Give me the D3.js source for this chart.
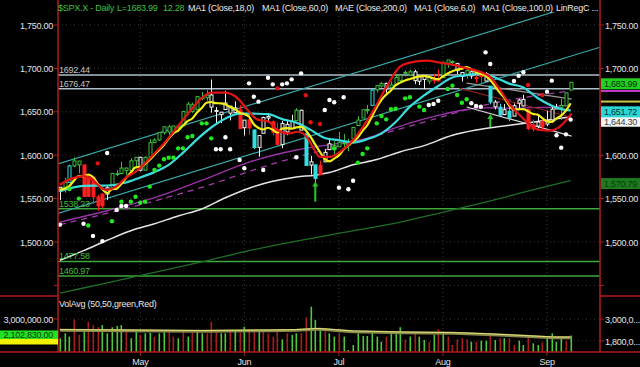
<!DOCTYPE html>
<html>
<head>
<meta charset="utf-8">
<script src="https://cdn.jsdelivr.net/npm/d3@7"></script>
<style>
html, body { margin: 0; padding: 0; background: #000; }
svg { display: block; font-family: "Liberation Sans", Arial, sans-serif; font-size: 9px; letter-spacing: -0.25px; }
</style>
</head>
<body>
<svg id="chart" width="640" height="367"></svg>
<script>
// trading days shown (2013)
const dates = ["4/8","4/9","4/10","4/11","4/12","4/15","4/16","4/17","4/18","4/19","4/22","4/23","4/24","4/25","4/26","4/29","4/30",
  "5/1","5/2","5/3","5/6","5/7","5/8","5/9","5/10","5/13","5/14","5/15","5/16","5/17","5/20","5/21","5/22","5/23","5/24","5/28","5/29","5/30","5/31",
  "6/3","6/4","6/5","6/6","6/7","6/10","6/11","6/12","6/13","6/14","6/17","6/18","6/19","6/20","6/21","6/24","6/25","6/26","6/27","6/28",
  "7/1","7/2","7/3","7/5","7/8","7/9","7/10","7/11","7/12","7/15","7/16","7/17","7/18","7/19","7/22","7/23","7/24","7/25","7/26","7/29","7/30","7/31",
  "8/1","8/2","8/5","8/6","8/7","8/8","8/9","8/12","8/13","8/14","8/15","8/16","8/19","8/20","8/21","8/22","8/23","8/26","8/27","8/28","8/29","8/30",
  "9/3","9/4","9/5","9/6","9/9","9/10"]
const monthNames = {5: "May", 6: "Jun", 7: "Jul", 8: "Aug", 9: "Sep"}

const opens = [1558.6,1563.1,1568.6,1587.7,1593.3,1588.8,1552.4,1574.6,1552.0,1541.6,1555.3,1562.5,1578.8,1578.9,1585.2,1582.3,1593.6,
  1597.6,1582.8,1597.6,1614.4,1617.6,1625.9,1632.7,1626.7,1632.1,1633.8,1649.1,1658.1,1652.4,1665.7,1666.2,1669.4,1651.6,1646.7,1652.6,1656.6,1649.1,1652.1,
  1631.7,1640.7,1629.1,1609.0,1625.3,1644.7,1638.6,1629.9,1612.2,1635.5,1630.6,1639.8,1651.8,1624.6,1588.6,1588.8,1577.5,1592.3,1606.4,1611.1,
  1609.8,1614.3,1611.5,1618.7,1634.2,1642.9,1651.6,1657.4,1675.3,1679.6,1682.7,1677.9,1681.1,1686.2,1694.4,1696.1,1696.1,1685.2,1687.3,1690.3,1687.9,1687.8,
  1689.4,1706.1,1708.0,1705.8,1695.3,1693.4,1696.1,1688.4,1690.7,1693.9,1679.6,1661.2,1655.3,1646.8,1650.7,1645.0,1659.9,1664.3,1652.5,1630.2,1633.5,1638.9,
  1635.9,1640.7,1653.3,1657.4,1656.9,1675.1]
const highs = [1563.1,1573.9,1589.1,1597.4,1593.3,1588.8,1575.4,1574.6,1554.4,1555.9,1565.6,1579.6,1583.0,1592.6,1585.8,1596.7,1597.6,
  1597.6,1598.6,1618.5,1619.8,1626.0,1633.0,1635.0,1633.7,1636.0,1651.1,1661.5,1660.5,1667.5,1672.8,1674.9,1687.2,1655.5,1649.8,1674.2,1656.6,1661.9,1658.0,
  1640.4,1646.5,1629.3,1622.6,1644.4,1648.7,1640.1,1637.7,1639.3,1640.8,1646.5,1654.2,1652.5,1624.6,1599.2,1588.8,1593.8,1606.8,1620.1,1615.9,
  1626.6,1624.3,1618.9,1632.1,1644.7,1652.4,1657.9,1676.6,1680.2,1684.5,1683.7,1684.8,1693.1,1692.1,1697.6,1698.4,1698.4,1690.9,1691.9,1690.9,1693.2,1698.4,
  1707.9,1709.7,1709.2,1705.8,1695.3,1700.2,1699.4,1691.5,1696.8,1695.5,1679.6,1663.6,1659.2,1658.9,1656.9,1659.6,1664.9,1669.5,1652.5,1641.2,1646.4,1640.1,
  1651.3,1655.7,1659.2,1664.8,1672.4,1684.1]
const lows = [1548.2,1556.9,1568.6,1586.2,1579.0,1552.3,1552.4,1543.7,1536.0,1539.4,1548.2,1562.5,1575.8,1578.9,1577.6,1582.3,1586.5,
  1581.3,1582.8,1597.6,1614.2,1616.6,1623.7,1623.1,1623.7,1626.7,1633.8,1647.0,1648.6,1652.4,1663.5,1662.7,1648.9,1635.5,1636.9,1652.6,1640.1,1648.6,1630.7,
  1622.7,1623.6,1607.1,1598.2,1625.3,1639.3,1622.9,1610.9,1608.1,1623.0,1630.3,1639.8,1628.9,1588.2,1577.7,1560.3,1577.1,1592.3,1606.4,1601.1,
  1609.8,1606.8,1604.6,1615.0,1634.2,1642.9,1647.7,1657.4,1672.3,1677.9,1671.8,1677.9,1681.1,1684.1,1690.7,1691.0,1681.9,1680.7,1676.0,1681.9,1682.4,1684.9,
  1689.4,1700.7,1703.6,1693.3,1684.9,1688.4,1688.1,1683.4,1682.6,1684.8,1658.6,1652.6,1646.1,1646.1,1639.4,1645.0,1653.2,1656.0,1629.1,1627.5,1630.9,1628.0,
  1633.4,1637.4,1653.1,1640.6,1656.9,1675.1]
const closes = [1563.1,1568.6,1587.7,1593.4,1588.9,1552.4,1574.6,1552.0,1541.6,1555.3,1562.5,1578.8,1578.8,1585.2,1582.2,1593.6,1597.6,
  1582.7,1597.6,1614.4,1617.5,1626.0,1632.7,1626.7,1633.7,1633.8,1650.3,1658.8,1650.5,1667.5,1666.3,1669.2,1655.4,1650.5,1649.6,1660.1,1648.4,1654.4,1630.7,
  1640.4,1631.4,1608.9,1622.6,1643.4,1642.8,1626.1,1612.5,1636.4,1626.7,1639.0,1651.8,1628.9,1588.2,1592.4,1573.1,1588.0,1603.3,1613.2,1606.3,
  1615.0,1614.1,1615.4,1631.9,1640.5,1652.3,1652.6,1675.0,1680.2,1682.5,1676.3,1680.9,1689.4,1692.1,1695.5,1692.4,1685.9,1690.3,1691.7,1685.3,1686.0,1685.7,
  1706.9,1709.7,1707.1,1697.4,1690.9,1697.5,1691.4,1689.5,1694.2,1685.4,1661.3,1655.8,1646.1,1652.4,1642.8,1657.0,1663.5,1656.8,1630.5,1635.0,1638.2,1633.0,
  1639.8,1653.1,1655.1,1655.2,1671.7,1683.99]
// candle colour code per day: g green hollow, w white hollow, r red, c cyan, C cyan hollow
const candleCodes = "wgCggrrrrr" + "wggggggwgg" + "gggggggggg" + "ggwwwwwwrw" + "rcwwwrrwww" +
  "gwcwcrwwgg" + "ggggggCggw" + "gggggwwwgr" + "rgggwwgwrr" + "wcwcwcwwwr" + "rwrwwwggg"

// volume in millions
const volumes = [1.95,2.22,2.04,2.98,2.13,2.40,2.85,2.67,2.55,2.67,
  2.22,2.55,2.62,2.67,2.31,1.95,2.40,2.13,2.22,2.25,
  2.04,2.22,2.31,2.31,2.04,1.95,2.31,2.04,2.31,2.40,
  2.22,2.22,2.85,2.40,2.22,2.22,2.31,2.40,2.25,2.58,
  2.44,2.44,2.31,2.40,2.22,2.04,2.31,1.89,2.22,2.13,
  2.22,2.22,3.09,3.67,2.95,2.44,2.31,2.22,2.04,2.22,
  2.04,1.31,1.58,2.22,2.07,2.07,2.25,2.04,1.76,2.04,
  2.31,2.31,2.55,1.89,2.04,2.22,2.04,1.85,1.76,2.13,
  2.44,2.31,2.04,1.58,1.89,1.95,1.89,1.76,1.76,1.82,
  1.82,2.13,1.85,1.95,1.95,1.95,1.58,1.82,1.58,2.13,
  1.67,1.58,1.71,2.04,2.22,1.76,1.95,1.82,2.10]
const volumeCodes = "gggrrgrrrg" + "ggggrggrgg" + "rggrrgrgrg" + "grrrggrgrg" + "rrgrrrrgrg" +
  "grrgggrggr" + "gggggggggr" + "gggrgrggrg" + "rgrrrrrgrg" + "grgrgrrggr" + "ggrggggrg"
const volAvg = [[0,2.38],[15,2.36],[30,2.33],[44,2.36],[50,2.38],[54,2.44],[55,2.44],[62,2.31],[72.6,2.25],
  [83.2,2.22],[90.2,2.16],[97.3,2.07],[104.3,1.98],[108,1.98]]
const lastVolume = 2102830

// indicator lines, [day index, price]
const ma6 = [1560.4,1561.5,1564.4,1571.0,1575.8,1575.7,1577.6,1574.8,1567.2,1560.8,1556.4,1560.8,1561.5,1567.0,1573.8,1580.2,1586.0,
  1586.7,1589.8,1594.7,1600.6,1606.0,1611.8,1619.2,1625.2,1628.4,1633.9,1639.3,1642.3,1649.1,1654.5,1660.4,1661.3,1659.9,1659.8,1658.5,1655.5,1653.1,1649.0,
  1647.3,1644.2,1635.7,1631.4,1629.6,1631.6,1629.2,1626.1,1630.6,1631.3,1630.6,1632.1,1632.6,1628.5,1621.2,1612.2,1603.7,1595.7,1593.0,1596.1,
  1599.8,1606.7,1611.2,1616.0,1620.5,1628.2,1634.5,1644.6,1655.4,1663.9,1669.8,1674.6,1680.7,1683.6,1686.1,1687.8,1689.4,1690.9,1691.3,1690.2,1688.6,1687.5,
  1691.0,1694.2,1696.8,1698.8,1699.6,1701.6,1699.0,1695.6,1693.5,1691.5,1686.6,1679.6,1672.1,1665.9,1657.3,1652.6,1652.9,1653.1,1650.5,1647.6,1646.8,1642.8,
  1638.9,1638.3,1642.4,1645.7,1651.3,1659.8]
const redLine = [[0,1566],[2.4,1573],[4.9,1576],[6.6,1573.5],[8,1566],[9.8,1560],[11.9,1563.8],[13.7,1573],[16.5,1583],[19.3,1598],
  [22.1,1614],[24.9,1633],[27.7,1652],[29.9,1665.5],[32,1672],[34.8,1672],[37.6,1665.5],[39.7,1652],[41.8,1641],[44,1639],[46,1629],
  [48.2,1625],[50.3,1627],[52.4,1619.5],[53.8,1606],[55,1598],[57.1,1598],[59.5,1605],[62,1617.5],[65.5,1644.4],[69.1,1679],[71.9,1702],
  [74,1706.6],[77.5,1708.9],[80.4,1706.6],[83.2,1704],[86,1700],[88.8,1696.2],[90.9,1690.5],[93.1,1675],[95.2,1657.8],[97.2,1646.3],
  [99.4,1634.8],[101.5,1629],[103.6,1628.3],[105.7,1632.9],[107.1,1640.6],[108.2,1648.2]]
const ma18 = [[0,1558.4],[5,1564.6],[10,1565.1],[14,1568.5],[17,1574.4],[20,1580.5],[23,1588.9],[26,1602.7],[29,1618.3],[32,1631.9],
  [35,1642.3],[38,1648.0],[41,1647.8],[44,1647.3],[47,1641.6],[50,1637.5],[53,1629.2],[56,1619.8],[59,1617.2],[62,1614.6],[65,1618.5],
  [68,1625.2],[71,1638.3],[74,1655.9],[77,1668.8],[80,1679.7],[83,1689.6],[86,1692.3],[89,1693.9],[92,1689.6],[95,1682.5],[98,1678.1],
  [101,1665.9],[104,1657.0],[106,1653.1],[108,1651.72]]
const ma60 = [[0,1523],[10,1536],[20,1551],[30,1571],[40,1592],[50,1606],[59,1613.7],[65,1619.6],[70,1629.8],[75,1638.7],[80,1645.9],
  [85,1651.8],[90,1654.6],[95,1654.1],[100,1654.8],[104,1655.5],[108,1658.3]]
const maeLine = [[0,1520],[15,1540],[30,1563],[45,1590],[60,1612],[75,1635],[90,1658],[108,1674]]
const ma100 = [[0,1479],[5,1490],[10,1502],[15,1513],[20,1521],[25,1530],[30,1538],[35,1551],[40,1562],[45,1570],[50,1575],[54,1577],
  [57,1580],[62,1589],[67,1595],[72,1604],[77,1611],[83,1623],[88,1629],[93,1633],[98,1636.5],[104,1641],[108,1644.3]]
const ma200 = [[0,1441],[10,1453],[20,1465],[30,1477],[40,1490],[50,1501],[60,1511],[72,1523],[80,1533],[90,1546],[100,1560],[108,1570.79]]
const regUpper = [[-0.4,1590],[114.2,1781.4]]
const regLower = [[-0.4,1533],[114.2,1724.4]]
const trendWhite = [[86,1655.5],[108.2,1622]]
const trendGray = [[86,1683],[108.2,1664.7]]
const trendRed = [[84.5,1677],[108,1644]]

const grayLevels = [1692.44, 1676.47]
const greenLevels = [1538.23, 1477.58, 1460.97]

const whiteDots = [[0,1520],[5,1521],[7,1507],[9,1501],[10,1602.5],[12,1537],[13,1541.5],[14,1541.5],[33,1606.8],[34,1606.8],[35,1620.6],
  [36,1606.8],[38,1594.5],[39,1584.9],[40,1682.8],[41,1667.4],[42,1661.7],[43,1583],[44,1689.3],[45,1681.6],[47,1681.6],[48,1682.8],
  [49,1687.4],[50,1597.6],[51,1694.3],[56,1652],[57,1663.6],[58,1661],[59,1562.6],[60,1666.7],[61,1560.7],[62,1570.6],[78,1657.8],
  [79,1659],[80,1662.8],[87,1659.8],[88,1656.7],[89,1655.9],[90,1718.5],[91,1705],[96,1685.5],[97,1691.6],[98,1695.5],[103,1673.2],
  [104,1685.9],[105,1622.9],[106,1608.7],[107,1624],[108,1641]]
const greenDots = [[2,1561],[4,1550],[6,1519],[11,1524],[13,1546.5],[15,1546.5],[16,1552.2],[17,1545.3],[18,1546.5],[19,1563.8],
  [20,1583],[21,1588],[22,1595.3],[23,1597.2],[24,1597.2],[25,1607.9],[26,1607.9],[27,1620.6],[28,1622.1],[30,1636.7],[31,1636.7],
  [32,1619.4],[58,1607.9],[63,1591.4],[64,1601.4],[65,1607.9],[67,1636.7],[68,1645.2],[69,1641.3],[70,1652.9],[71,1653.6],[73,1665.5],
  [74,1666.7],[76,1656],[77,1652],[82,1676.3],[83,1680.1],[84,1669.4],[85,1660.5],[86,1664.4]]
const redDots = [[8,1590.6],[46,1677],[52,1669],[53,1638],[55,1636],[99,1680.9],[102,1669.4]]
const arrows = [[54,1569.6,1546.5],[91,1647.5,1632.5]]

const priceTicks = [1450, 1500, 1550, 1600, 1650, 1700, 1750]
const leftPriceLabels = [1500, 1550, 1600, 1650, 1700, 1750]
const rightPriceLabels = [1500, 1550, 1600, 1700, 1750]
const volTicks = [1.8, 3.0]

const svg = d3.select('#chart')
const plotL = 58, plotR = 600, mainTop = 12, mainBot = 296, volBot = 352

const x = d3.scaleLinear().domain([-0.4, 114.2]).range([plotL, plotR])
const y = d3.scaleLinear().domain([1500, 1750]).range([242, 25])
const yv = d3.scaleLinear().domain([1.8, 3.0]).range([341, 319])

svg.append('rect').attr('width', 640).attr('height', 367).attr('fill', '#000')

const defs = svg.append('defs')
defs.append('clipPath').attr('id', 'clipMain').append('rect')
  .attr('x', plotL).attr('y', mainTop).attr('width', plotR - plotL).attr('height', mainBot - mainTop)
defs.append('clipPath').attr('id', 'clipVol').append('rect')
  .attr('x', plotL).attr('y', mainBot).attr('width', plotR - plotL).attr('height', volBot - mainBot)

const fmt = d3.format(',.2f')
const monthStarts = []
dates.forEach((d, i) => {
  const m = +d.split('/')[0]
  if (i > 0 && m !== +dates[i - 1].split('/')[0]) monthStarts.push({i: i, label: monthNames[m]})
})

// dotted grid
const grid = svg.append('g').attr('stroke', '#3a3a3a').attr('stroke-dasharray', '1,3')
grid.selectAll('.vg').data(monthStarts).enter().append('line')
  .attr('x1', d => x(d.i)).attr('x2', d => x(d.i)).attr('y1', mainTop).attr('y2', volBot)
grid.selectAll('.hg').data(priceTicks).enter().append('line')
  .attr('x1', plotL).attr('x2', plotR).attr('y1', d => y(d)).attr('y2', d => y(d))
grid.selectAll('.hv').data(volTicks).enter().append('line')
  .attr('x1', plotL).attr('x2', plotR).attr('y1', d => yv(d)).attr('y2', d => yv(d))

const main = svg.append('g').attr('clip-path', 'url(#clipMain)')
const line = d3.line().x(d => x(d[0])).y(d => y(d[1]))
const smooth = d3.line().x(d => x(d[0])).y(d => y(d[1])).curve(d3.curveMonotoneX)

// horizontal levels
main.selectAll('.gl').data(grayLevels).enter().append('line')
  .attr('x1', plotL).attr('x2', plotR).attr('y1', d => y(d)).attr('y2', d => y(d))
  .attr('stroke', '#aebfca').attr('stroke-width', 1.5)
main.selectAll('.grl').data(greenLevels).enter().append('line')
  .attr('x1', plotL).attr('x2', plotR).attr('y1', d => y(d)).attr('y2', d => y(d))
  .attr('stroke', '#3ea83e').attr('stroke-width', 1.5)

// long averages and channel
main.append('path').attr('d', smooth(ma200)).attr('fill', 'none').attr('stroke', '#1f6e26').attr('stroke-width', 1.3)
main.append('path').attr('d', line(regUpper)).attr('fill', 'none').attr('stroke', '#3aa7a7').attr('stroke-width', 1.2)
main.append('path').attr('d', line(regLower)).attr('fill', 'none').attr('stroke', '#3aa7a7').attr('stroke-width', 1.2)
main.append('path').attr('d', smooth(maeLine)).attr('fill', 'none').attr('stroke', '#a23aa8')
  .attr('stroke-width', 1.3).attr('stroke-dasharray', '6,5')
main.append('path').attr('d', smooth(ma60)).attr('fill', 'none').attr('stroke', '#9a34a6').attr('stroke-width', 1.3)
main.append('path').attr('d', smooth(ma100)).attr('fill', 'none').attr('stroke', '#e6e6e6').attr('stroke-width', 1.5)
main.append('path').attr('d', line(trendWhite)).attr('stroke', '#d8d8d8').attr('stroke-width', 1.2)
main.append('path').attr('d', line(trendGray)).attr('stroke', '#9a9a9a').attr('stroke-width', 1.2)
main.append('path').attr('d', line(trendRed)).attr('stroke', '#8a1c1c').attr('stroke-width', 1.2)

// candles
const candleColor = {g: '#3cbd3c', w: '#f2f2f2', r: '#ff1e1e', c: '#35dede', C: '#35dede'}
const filled = {r: true, c: true}
const candles = main.append('g')
closes.forEach((c, i) => {
  const code = candleCodes[i]
  const col = candleColor[code]
  const cx = Math.round(x(i)) + 0.5
  candles.append('line').attr('x1', cx).attr('x2', cx)
    .attr('y1', y(highs[i])).attr('y2', y(lows[i])).attr('stroke', col).attr('stroke-width', 1)
  const top = y(Math.max(opens[i], c)), bot = y(Math.min(opens[i], c))
  candles.append('rect').attr('x', cx - 1.5).attr('width', 3)
    .attr('y', top).attr('height', Math.max(1, bot - top))
    .attr('fill', filled[code] ? col : '#000').attr('stroke', col).attr('stroke-width', 1)
})

// short averages
main.append('path').attr('d', smooth(ma18)).attr('fill', 'none').attr('stroke', '#3cdcdc').attr('stroke-width', 2.2)
main.append('path').attr('d', d3.line().x((d, i) => x(i)).y(d => y(d)).curve(d3.curveMonotoneX)(ma6))
  .attr('fill', 'none').attr('stroke', '#f2ee1a').attr('stroke-width', 2.2)
main.append('path').attr('d', smooth(redLine)).attr('fill', 'none').attr('stroke', '#e01414').attr('stroke-width', 2.2)

// dots
const dotGroup = main.append('g')
const drawDots = (data, col) => {
  dotGroup.selectAll(null).data(data).enter().append('circle')
    .attr('cx', d => x(d[0])).attr('cy', d => y(d[1])).attr('r', 2.2).attr('fill', col)
}
drawDots(whiteDots, '#ffffff')
drawDots(greenDots, '#22e822')
drawDots(redDots, '#e01212')

// arrows
arrows.forEach(a => {
  const ax = x(a[0]), tip = y(a[1]), base = y(a[2])
  main.append('line').attr('x1', ax).attr('x2', ax).attr('y1', tip + 4).attr('y2', base)
    .attr('stroke', '#22cc22').attr('stroke-width', 2)
  main.append('path').attr('d', `M${ax},${tip} L${ax - 3},${tip + 5} L${ax + 3},${tip + 5} Z`).attr('fill', '#22cc22')
})

// level labels inside plot
svg.selectAll('.gll').data(grayLevels).enter().append('text')
  .attr('x', 59).attr('y', d => y(d) - 2).text(d => d.toFixed(2)).attr('fill', '#c4c4c4')
svg.selectAll('.grll').data(greenLevels).enter().append('text')
  .attr('x', 59).attr('y', d => y(d) - 2).text(d => d.toFixed(2)).attr('fill', '#3ebf3e')

// volume panel
const vol = svg.append('g').attr('clip-path', 'url(#clipVol)')
vol.selectAll('rect').data(volumes).enter().append('rect')
  .attr('x', (d, i) => Math.round(x(i)) - 0.5).attr('width', 1.6)
  .attr('y', d => yv(d)).attr('height', d => volBot - yv(d))
  .attr('fill', (d, i) => volumeCodes[i] === 'g' ? '#4cc83c' : '#a81c1c')
const vline = d3.line().x(d => x(d[0])).y(d => yv(d[1]))
vol.append('path').attr('d', vline(volAvg)).attr('fill', 'none').attr('stroke', '#8a8a4e').attr('stroke-width', 3)
vol.append('path').attr('d', vline(volAvg.map(d => [d[0], d[1] + 0.04]))).attr('fill', 'none')
  .attr('stroke', '#e2e276').attr('stroke-width', 1)

// frame
const red = '#b31b1b'
svg.append('line').attr('x1', plotL).attr('x2', plotL).attr('y1', 0).attr('y2', volBot).attr('stroke', red).attr('stroke-width', 1.5)
svg.append('line').attr('x1', plotR).attr('x2', plotR).attr('y1', 0).attr('y2', volBot).attr('stroke', red).attr('stroke-width', 1.5)
svg.append('line').attr('x1', 0).attr('x2', 640).attr('y1', volBot).attr('y2', volBot).attr('stroke', red).attr('stroke-width', 1.5)
svg.append('line').attr('x1', 0).attr('x2', plotL).attr('y1', mainBot).attr('y2', mainBot).attr('stroke', red).attr('stroke-width', 1.5)
svg.append('line').attr('x1', plotR).attr('x2', 640).attr('y1', mainBot).attr('y2', mainBot).attr('stroke', red).attr('stroke-width', 1.5)

// price axes
svg.selectAll('.lt').data(priceTicks).enter().append('line')
  .attr('x1', plotL - 4).attr('x2', plotL).attr('y1', d => y(d)).attr('y2', d => y(d)).attr('stroke', red)
svg.selectAll('.rt').data(priceTicks).enter().append('line')
  .attr('x1', plotR).attr('x2', plotR + 4).attr('y1', d => y(d)).attr('y2', d => y(d)).attr('stroke', red)
svg.selectAll('.ll').data(leftPriceLabels).enter().append('text')
  .attr('x', 53).attr('y', d => y(d) + 3.5).attr('text-anchor', 'end').text(d => fmt(d)).attr('fill', '#e4e4e4')
svg.selectAll('.rl').data(rightPriceLabels).enter().append('text')
  .attr('x', 605).attr('y', d => y(d) + 3.5).text(d => fmt(d)).attr('fill', '#e4e4e4')

// last value markers on right axis
const markerLine = (v, col) => svg.append('rect').attr('x', 601).attr('width', 39)
  .attr('y', y(v) - 1).attr('height', 2).attr('fill', col)
markerLine(maeLine[maeLine.length - 1][1], '#c23cc8')
markerLine(ma6[ma6.length - 1] + 2, '#c8c84a')
const valueBox = (v, shift, bg, fg) => {
  const cy = y(v) + shift
  svg.append('rect').attr('x', 601).attr('y', cy - 5.5).attr('width', 39).attr('height', 11).attr('fill', bg)
  svg.append('text').attr('x', 604).attr('y', cy + 3.5).text(fmt(v)).attr('fill', fg)
}
valueBox(closes[closes.length - 1], 1.5, '#22d022', '#0a300a')
valueBox(ma100[ma100.length - 1][1], 4.5, '#f4f4f4', '#3a3a3a')
valueBox(ma18[ma18.length - 1][1], 1.5, '#2ad6d6', '#0a3030')
valueBox(ma200[ma200.length - 1][1], 3, '#1d7a1d', '#0b3a0b')

// volume axes
svg.selectAll('.vlt').data(volTicks).enter().append('line')
  .attr('x1', plotL - 4).attr('x2', plotL).attr('y1', d => yv(d)).attr('y2', d => yv(d)).attr('stroke', red)
svg.selectAll('.vrt').data(volTicks).enter().append('line')
  .attr('x1', plotR).attr('x2', plotR + 4).attr('y1', d => yv(d)).attr('y2', d => yv(d)).attr('stroke', red)
svg.append('text').attr('x', 53).attr('y', yv(3.0) + 3.5).attr('text-anchor', 'end')
  .text(fmt(3000000)).attr('fill', '#e4e4e4')
svg.append('rect').attr('x', 0).attr('y', 338.5).attr('width', 58).attr('height', 6).attr('fill', '#f0f000')
svg.append('rect').attr('x', 0).attr('y', 330.5).attr('width', 58).attr('height', 8.5).attr('fill', '#22e022')
svg.append('text').attr('x', 53).attr('y', 338).attr('text-anchor', 'end')
  .text(fmt(lastVolume)).attr('fill', '#0c3a0c')
svg.selectAll('.vrl').data(volTicks).enter().append('text')
  .attr('x', 605).attr('y', d => yv(d) + 3.5).text(d => d3.format(',')(d * 1e6).slice(0, 7) + '...')
  .attr('fill', '#e4e4e4')
svg.append('text').attr('x', 59).attr('y', 307).text('VolAvg (50,50,green,Red)').attr('fill', '#e8e8e8')

// month axis
svg.selectAll('.mt').data(monthStarts).enter().append('line')
  .attr('x1', d => x(d.i)).attr('x2', d => x(d.i)).attr('y1', volBot).attr('y2', volBot + 4).attr('stroke', red)
svg.selectAll('.ml').data(monthStarts).enter().append('text')
  .attr('x', d => x(d.i)).attr('y', 365).attr('text-anchor', 'middle').text(d => d.label).attr('fill', '#e4e4e4')

// header
const header = [
  {x: 58, t: '$SPX.X - Daily', c: '#3fc03f'},
  {x: 117, t: 'L=1683.99', c: '#3fc03f'},
  {x: 163, t: '12.28', c: '#3fc03f'},
  {x: 188, t: 'MA1 (Close,18,0)', c: '#e8e8e8'},
  {x: 262, t: 'MA1 (Close,60,0)', c: '#e8e8e8'},
  {x: 335, t: 'MAE (Close,200,0)', c: '#e8e8e8'},
  {x: 414, t: 'MA1 (Close,6,0)', c: '#e8e8e8'},
  {x: 482, t: 'MA1 (Close,100,0)', c: '#e8e8e8'},
  {x: 556, t: 'LinRegC ...', c: '#e8e8e8'}
]
svg.selectAll('.hd').data(header).enter().append('text')
  .attr('x', d => d.x).attr('y', 10.5).text(d => d.t).attr('fill', d => d.c)
</script>
</body>
</html>
